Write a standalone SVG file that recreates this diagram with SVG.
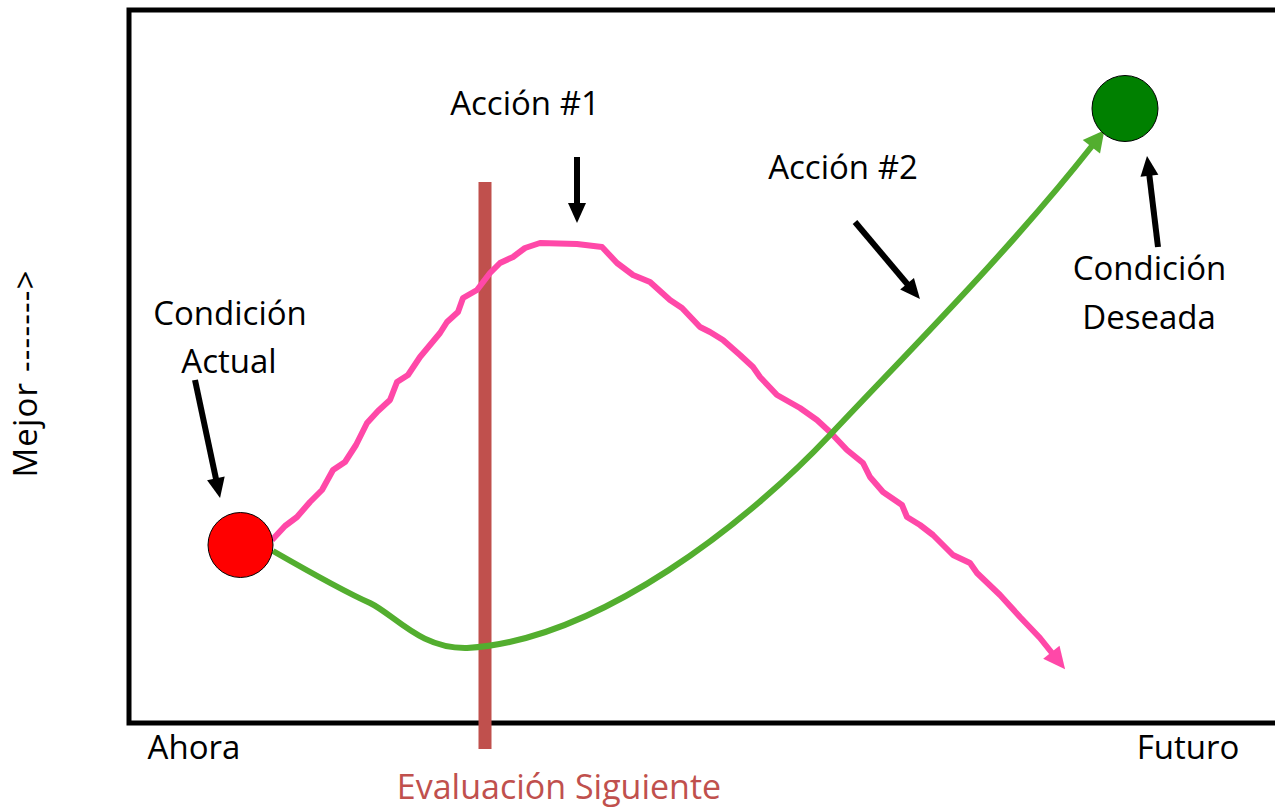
<svg xmlns="http://www.w3.org/2000/svg" width="1275" height="809" viewBox="0 0 1275 809">
  <style>
    .t { font-family: "Open Sans", "Liberation Sans", sans-serif; font-size: 33px; fill: #000; }
    .c { text-anchor: middle; }
    .blk { stroke: #000; stroke-width: 6; fill: none; marker-end: url(#hb); }
    .pink { stroke: #ff48a8; stroke-width: 6; fill: none; stroke-linejoin: round; marker-end: url(#hp); }
    .green { stroke: #53ae2f; stroke-width: 6; fill: none; marker-end: url(#hg); }
  </style>
  <defs>
    <marker id="hb" markerUnits="userSpaceOnUse" markerWidth="20" markerHeight="20" refX="0" refY="0" orient="auto" viewBox="0 -9 20 18" overflow="visible">
      <path d="M-1,-9 L19,0 L-1,9 z" fill="#000"/>
    </marker>
    <marker id="hp" markerUnits="userSpaceOnUse" markerWidth="22" markerHeight="22" refX="0" refY="0" orient="auto" viewBox="0 -10 21 20" overflow="visible">
      <path d="M-1,-10 L20,0 L-1,10 z" fill="#ff48a8"/>
    </marker>
    <marker id="hg" markerUnits="userSpaceOnUse" markerWidth="22" markerHeight="22" refX="0" refY="0" orient="auto" viewBox="0 -11 21 22" overflow="visible">
      <path d="M-1,-11 L20,0 L-1,11 z" fill="#53ae2f"/>
    </marker>
  </defs>
  <rect width="1275" height="809" fill="#fff"/>

  <g id="axes">
    <rect x="129" y="10" width="1250" height="713" fill="none" stroke="#000" stroke-width="5"/>
    <text class="t" x="194" y="759" text-anchor="middle">Ahora</text>
    <text class="t" x="1188" y="759" text-anchor="middle">Futuro</text>
    <text class="t" transform="translate(37,374) rotate(-90)" text-anchor="middle" textLength="207" lengthAdjust="spacing">Mejor -------&gt;</text>
  </g>

  <g id="evaluacion">
    <line x1="485" y1="182" x2="485" y2="749" stroke="#c0504d" stroke-width="13"/>
    <text class="t" x="559" y="799" text-anchor="middle" style="fill:#c0504d;font-size:34px">Evaluación Siguiente</text>
  </g>

  <g id="connectors">
    <path class="pink" d="M272,540 L285,526 L297,517 L310,502 L322,490 L333,470 L345,462 L356,445 L367,423 L378,411 L390,400 L397,382 L408,375 L420,357 L430,345 L440,333 L447,322 L458,312 L463,298 L477,290 L490,273 L500,263 L513,257 L525,248 L540,243 L577,244 L602,247 L617,263 L633,275 L650,282 L670,300 L682,308 L700,327 L710,332 L723,340 L740,355 L753,367 L760,377 L777,395 L800,408 L817,420 L830,432 L847,450 L863,463 L870,477 L883,492 L902,505 L907,517 L920,525 L933,535 L953,555 L970,563 L977,573 L1000,595 L1020,617 L1040,638 L1052,653"/>
    <path class="green" d="M273,551 C320,578 345,592 370,603 C395,615 420,649 467,648 C600,640 750,520 830,435 C910,350 1010,250 1092,146"/>
    <line class="blk" x1="577" y1="157" x2="577" y2="204"/>
    <line class="blk" x1="855" y1="222" x2="907.7" y2="284.5"/>
    <line class="blk" x1="195" y1="380" x2="216.1" y2="479.4"/>
    <line class="blk" x1="1158" y1="247" x2="1149.3" y2="174.8"/>
  </g>

  <g id="accion1">
    <text class="t c" x="525" y="115">Acción #1</text>
  </g>
  <g id="accion2">
    <text class="t c" x="843" y="179">Acción #2</text>
  </g>

  <g id="condicion-actual">
    <circle cx="240.5" cy="545" r="32.5" fill="#ff0000" stroke="#000" stroke-width="1"/>
    <text class="t c" x="230" y="325">Condición</text>
    <text class="t c" x="229" y="373">Actual</text>
  </g>

  <g id="condicion-deseada">
    <circle cx="1125" cy="108.5" r="33" fill="#008000" stroke="#000" stroke-width="1"/>
    <text class="t c" x="1149.5" y="280">Condición</text>
    <text class="t c" x="1149" y="329">Deseada</text>
  </g>
</svg>
